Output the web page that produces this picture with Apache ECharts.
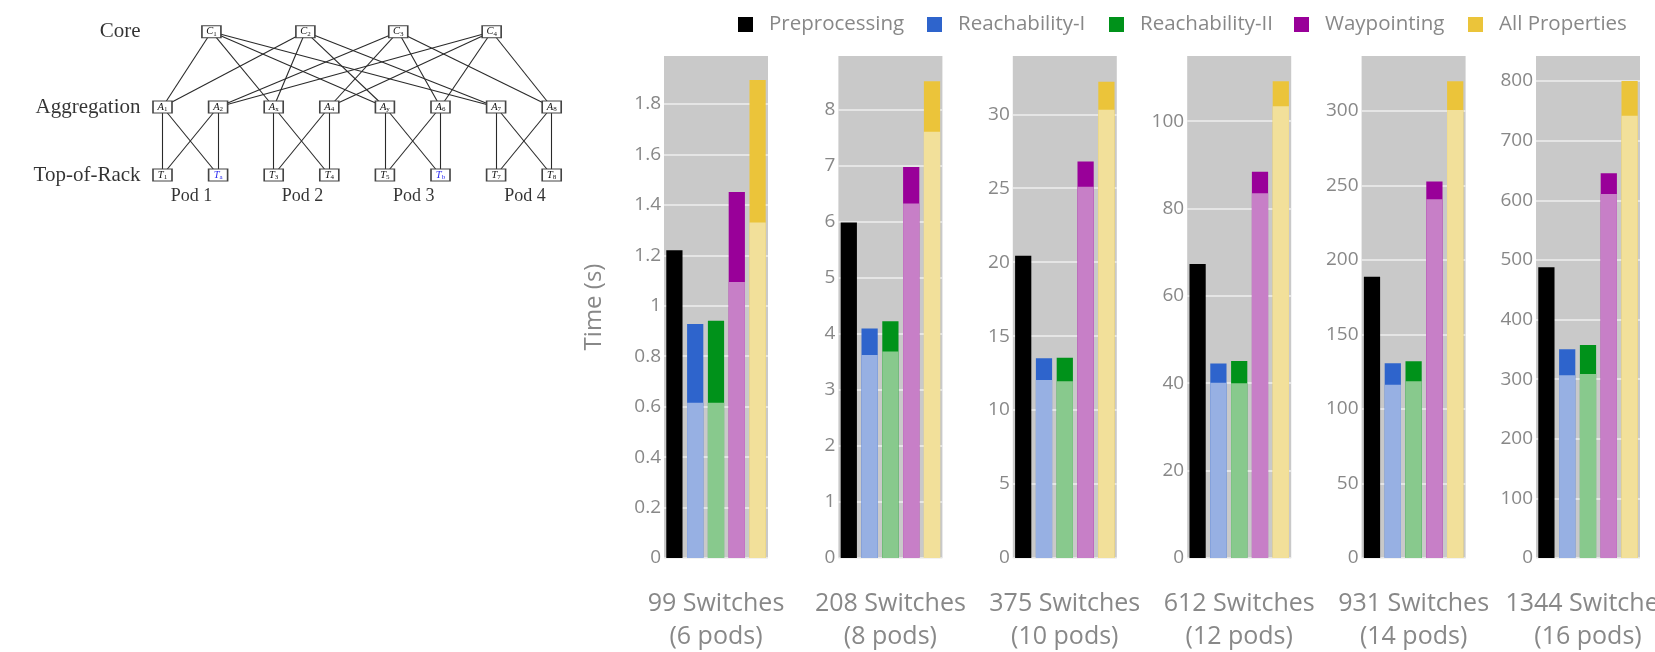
<!DOCTYPE html>
<html>
<head>
<meta charset="utf-8">
<script src="https://cdn.jsdelivr.net/npm/echarts@6/dist/echarts.min.js"></script>
<style>
    html, body { margin: 0; padding: 0; background: #fff; }
    #main { width: 1655px; height: 652px; }
</style>
</head>
<body>
<div id="main"></div>
<script>
// ---- bar panels ----
var panelNames = [
    '99 Switches\n(6 pods)',
    '208 Switches\n(8 pods)',
    '375 Switches\n(10 pods)',
    '612 Switches\n(12 pods)',
    '931 Switches\n(14 pods)',
    '1344 Switches\n(16 pods)'
]
var propNames = ['Preprocessing', 'Reachability-I', 'Reachability-II', 'Waypointing', 'All Properties']
// total time (top of each bar), one row per panel
var totals = [
    [1.22, 0.928, 0.94, 1.451, 1.895],
    [5.98, 4.09, 4.22, 6.97, 8.5],
    [20.44, 13.5, 13.54, 26.8, 32.2],
    [67.3, 44.5, 45.1, 88.4, 109.1],
    [188.8, 130.7, 132.0, 252.6, 320.0],
    [487.7, 350.0, 357.4, 645.4, 800.0]
]
// lighter lower part of each bar (preprocessing has none)
var lower = [
    ['-', 0.615, 0.615, 1.094, 1.33],
    ['-', 3.62, 3.68, 6.32, 7.6],
    ['-', 12.03, 11.95, 25.1, 30.3],
    ['-', 40.1, 40.0, 83.5, 103.4],
    ['-', 116.3, 118.6, 240.7, 300.7],
    ['-', 306.5, 308.7, 610.7, 741.6]
]
var axisMax = [1.99, 8.95, 33.94, 114.9, 336.9, 842]
var axisStep = [0.2, 1, 5, 20, 50, 100]

var darkColors = ['#000000', '#2e64cc', '#00921a', '#990099', '#ebc43a']
var lightColors = ['#000000', '#97b0e3', '#88c98d', '#c77fc7', '#f2e09a']
var legendLeft = [738, 927, 1109, 1294, 1468]

// ---- topology diagram ----
var coreNodes = [['C', '1'], ['C', '2'], ['C', '3'], ['C', '4']]
var coreX = [0.88, 2.57, 4.24, 5.92]
var aggNodes = [['A', '1'], ['A', '2'], ['A', 'x'], ['A', '4'], ['A', 'y'], ['A', '6'], ['A', '7'], ['A', '8']]
var torNodes = [['T', '1'], ['T', 'a'], ['T', '3'], ['T', '4'], ['T', '5'], ['T', 'b'], ['T', '7'], ['T', '8']]
var levelNames = ['Core', 'Aggregation', 'Top-of-Rack']
var levelY = [2.107, 1, 0]
var podNames = ['Pod 1', 'Pod 2', 'Pod 3', 'Pod 4']
var marked = ['Ta', 'Tb']

var textGray = '#888'
var font = 'Open Sans'
var serif = 'Liberation Serif'

var grids = [], xAxes = [], yAxes = [], series = []

panelNames.forEach(function (label, i) {
    grids.push({
        left: 664 + i * 174.4, top: 56, width: 104, height: 502,
        outerBoundsMode: 'none', containLabel: false,
        show: true, backgroundColor: '#c9c9c9', borderWidth: 0
    })
    xAxes.push({
        gridIndex: i, type: 'category', data: propNames,
        axisLine: { show: false }, axisTick: { show: false }, axisLabel: { show: false },
        name: label, nameLocation: 'middle', nameGap: 29,
        nameTextStyle: { fontFamily: font, fontSize: 25, lineHeight: 33, color: textGray }
    })
    var y = {
        gridIndex: i, type: 'value', min: 0, max: axisMax[i], interval: axisStep[i],
        axisLine: { show: false }, axisTick: { show: false },
        axisLabel: { showMaxLabel: false, margin: 3, fontFamily: font, fontSize: 19, color: textGray },
        splitLine: { showMaxLine: false, lineStyle: { color: '#eeeeee', width: 1.5 } }
    }
    if (i === 0) {
        y.name = 'Time (s)'
        y.nameLocation = 'middle'
        y.nameGap = 58
        y.nameTextStyle = { fontFamily: font, fontSize: 24, color: textGray }
    }
    yAxes.push(y)

    // full bars (dark), one series per property so the legend maps to them
    propNames.forEach(function (name, k) {
        series.push({
            type: 'bar', name: name, xAxisIndex: i, yAxisIndex: i, stack: 'total' + i,
            barCategoryGap: '22%', barGap: '-100%',
            itemStyle: { color: darkColors[k] },
            data: totals[i].map(function (v, j) { return j === k ? v : '-' })
        })
    })
    // light lower part drawn over the dark bar
    series.push({
        type: 'bar', name: 'lower', xAxisIndex: i, yAxisIndex: i, stack: 'lower' + i,
        barCategoryGap: '22%', barGap: '-100%',
        data: lower[i].map(function (v, j) {
            return { value: v, itemStyle: { color: lightColors[j] } }
        })
    })
})

// diagram grid (index 6)
grids.push({ left: 106.9, top: 25.4, width: 472.6, height: 183.6, outerBoundsMode: 'none' })
xAxes.push({ gridIndex: 6, type: 'value', min: -1, max: 7.5, show: false })
yAxes.push({ gridIndex: 6, type: 'value', min: -0.5, max: 2.2, show: false })

var nodes = [], links = []
function addNode(pair, x, y) {
    var id = pair[0] + pair[1]
    nodes.push({ name: id, value: [x, y], sym: pair[0], sub: pair[1] })
    return id
}
var coreIds = coreNodes.map(function (p, c) { return addNode(p, coreX[c], levelY[0]) })
var aggIds = aggNodes.map(function (p, a) { return addNode(p, a, levelY[1]) })
var torIds = torNodes.map(function (p, t) { return addNode(p, t, levelY[2]) })
// C1, C2 to first aggregation switch of each pod, C3, C4 to the second
coreIds.forEach(function (c, ci) {
    for (var p = 0; p < 4; p++) {
        links.push({ source: c, target: aggIds[p * 2 + (ci < 2 ? 0 : 1)] })
    }
})
// full mesh inside each pod
for (var p = 0; p < 4; p++) {
    for (var a = 0; a < 2; a++) {
        for (var t = 0; t < 2; t++) {
            links.push({ source: aggIds[p * 2 + a], target: torIds[p * 2 + t] })
        }
    }
}

series.push({
    type: 'graph', coordinateSystem: 'cartesian2d', xAxisIndex: 6, yAxisIndex: 6,
    symbol: 'rect', symbolSize: [19, 12],
    itemStyle: { color: '#fff', borderColor: '#444', borderWidth: 1.3 },
    lineStyle: { color: '#2a2a2a', width: 1.1, opacity: 1 },
    emphasis: { disabled: true },
    label: {
        show: true, position: 'inside',
        formatter: function (p) {
            var blue = marked.indexOf(p.data.name) >= 0
            return '{' + (blue ? 'mb' : 'm') + '|' + p.data.sym + '}{' + (blue ? 'sb' : 's') + '|' + p.data.sub + '}'
        },
        rich: {
            m: { fontFamily: serif, fontStyle: 'italic', fontSize: 10.5, lineHeight: 12, color: '#111' },
            s: { fontFamily: serif, fontSize: 7, color: '#111', verticalAlign: 'bottom' },
            mb: { fontFamily: serif, fontStyle: 'italic', fontSize: 10.5, lineHeight: 12, color: '#2b2bf0' },
            sb: { fontFamily: serif, fontSize: 7, color: '#2b2bf0', verticalAlign: 'bottom' }
        }
    },
    data: nodes,
    links: links
})

// level and pod captions
series.push({
    type: 'scatter', xAxisIndex: 6, yAxisIndex: 6, symbolSize: 1, clip: false,
    itemStyle: { color: 'rgba(0,0,0,0)' },
    label: {
        show: true, position: 'left', distance: 2,
        formatter: function (p) { return p.data[2] },
        fontFamily: serif, fontSize: 21, color: '#000'
    },
    data: levelNames.map(function (n, j) { return [-0.35, levelY[j], n] })
})
series.push({
    type: 'scatter', xAxisIndex: 6, yAxisIndex: 6, symbolSize: 1, clip: false,
    itemStyle: { color: 'rgba(0,0,0,0)' },
    label: {
        show: true, position: 'inside',
        formatter: function (p) { return p.data[2] },
        fontFamily: serif, fontSize: 18, color: '#000'
    },
    data: podNames.map(function (n, j) { return [j * 2 + 0.52, -0.32, n] })
})

// one legend per entry so each sits where the reference has it
var legends = propNames.map(function (n, k) {
    return {
        left: legendLeft[k], top: 14, padding: 0,
        icon: 'rect', itemWidth: 15, itemHeight: 15,
        textStyle: { fontFamily: font, fontSize: 20.5, color: textGray, padding: [0, 0, 0, 11] },
        data: [{ name: n, itemStyle: { color: darkColors[k] } }]
    }
})

var option = {
    animation: false,
    backgroundColor: '#fff',
    legend: legends,
    grid: grids,
    xAxis: xAxes,
    yAxis: yAxes,
    series: series
}

var myChart = echarts.init(document.getElementById('main'))
myChart.setOption(option)
</script>
</body>
</html>
